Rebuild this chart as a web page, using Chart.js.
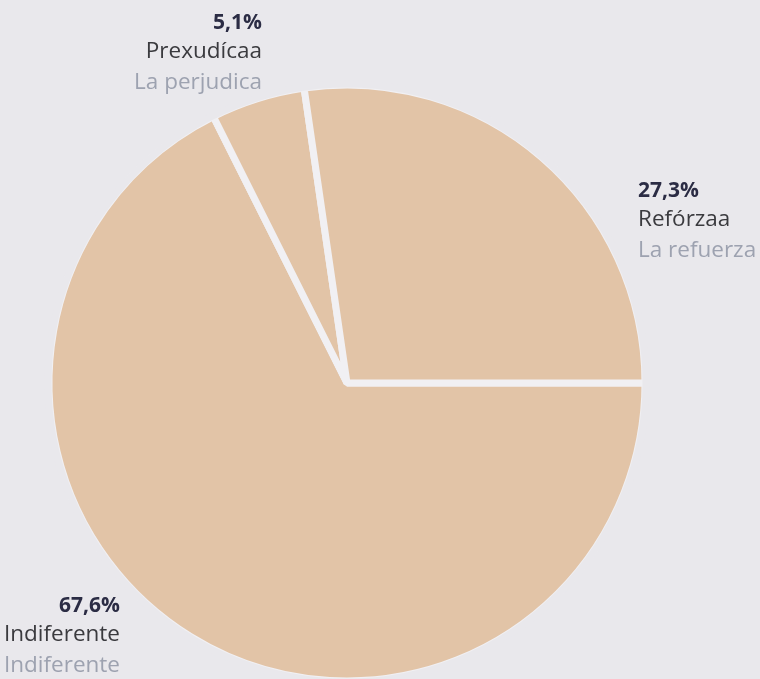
<!DOCTYPE html>
<html>
<head>
<meta charset="utf-8">
<script src="https://cdn.jsdelivr.net/npm/chart.js@4"></script>
<style>
  html, body { margin: 0; padding: 0; background: #e9e8ec; overflow: hidden; }
  canvas { display: block; }
</style>
</head>
<body>
<canvas id="canvas" width="760" height="720"></canvas>
<script>
const labels = ['Indiferente', 'Prexudícaa', 'Refórzaa'];
const subLabels = ['Indiferente', 'La perjudica', 'La refuerza'];
const values = [67.6, 5.1, 27.3];
const percentLabels = ['67,6%', '5,1%', '27,3%'];

const bg = '#e9e8ec';

// label blocks: anchor point + alignment for each slice
const labelPos = [
  { x: 120, y: 612, align: 'right' },
  { x: 262, y: 29, align: 'right' },
  { x: 638, y: 197, align: 'left' }
];

const labelPlugin = {
  id: 'sliceLabels',
  afterDraw(chart) {
    const c = chart.ctx;
    c.save();
    labels.forEach((lab, i) => {
      const p = labelPos[i];
      c.textAlign = p.align;
      c.textBaseline = 'alphabetic';
      c.font = 'bold 21px "Open Sans"';
      c.fillStyle = '#2b2c44';
      c.fillText(percentLabels[i], p.x, p.y);
      c.font = '22.5px "Open Sans"';
      c.fillStyle = '#3a3a3e';
      c.fillText(lab, p.x, p.y + 29);
      c.fillStyle = '#9da2b0';
      c.fillText(subLabels[i], p.x, p.y + 60);
    });
    c.restore();
  }
};

new Chart(document.getElementById('canvas'), {
  type: 'pie',
  data: {
    labels: labels,
    datasets: [{
      data: values,
      backgroundColor: '#e2c4a7',
      borderColor: '#f1f0f3',
      borderWidth: 7,
      borderAlign: 'center'
    }]
  },
  options: {
    responsive: false,
    devicePixelRatio: 1,
    animation: false,
    rotation: 90,
    radius: 298,
    layout: { padding: { left: 51, right: 117, top: 87, bottom: 41 } },
    plugins: {
      legend: { display: false },
      tooltip: { enabled: false }
    }
  },
  plugins: [labelPlugin, {
    id: 'outerEdge',
    afterDatasetsDraw(chart) {
      // cover the light stroke on the outer rim with the page colour
      const arc = chart.getDatasetMeta(0).data[0];
      const c = chart.ctx;
      c.save();
      c.beginPath();
      c.arc(arc.x, arc.y, arc.outerRadius + 1, 0, Math.PI * 2);
      c.strokeStyle = bg;
      c.lineWidth = 7;
      c.stroke();
      c.restore();
    }
  }]
});
</script>
</body>
</html>
